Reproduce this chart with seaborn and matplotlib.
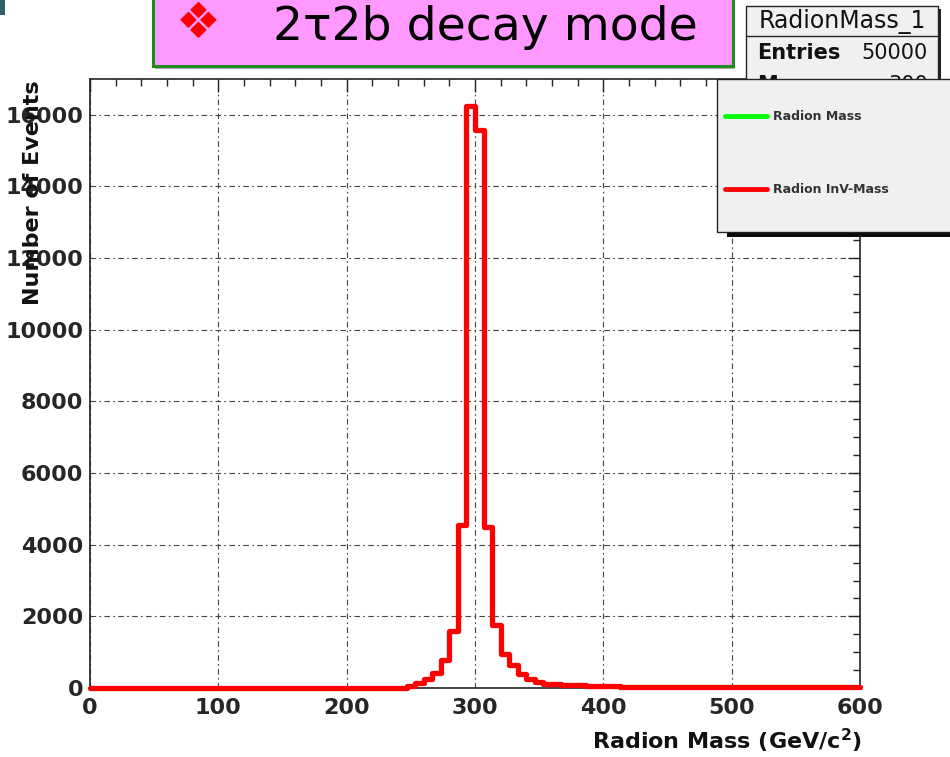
import numpy as np
import pandas as pd
import matplotlib
matplotlib.use("Agg")
import matplotlib.pyplot as plt
from matplotlib.patches import Rectangle
from matplotlib.lines import Line2D
from matplotlib.ticker import MultipleLocator
import seaborn as sns

# ---------------- data ----------------
mass_range = (0, 600)
n_bins = 90
events = [0, 0, 0, 0, 0, 0, 0, 0, 0, 0,
          0, 0, 0, 0, 0, 0, 0, 0, 0, 0,
          0, 0, 0, 0, 0, 0, 0, 0, 0, 0,
          0, 0, 0, 0, 0, 0, 0,
          60, 140, 250, 430, 780, 1580, 4560, 16240,
          15590, 4500, 1760, 950, 630, 390, 250, 165,
          120, 105, 95, 88, 75, 62, 52, 45,
          42, 40, 38, 36, 34, 33, 31, 30, 29, 28,
          27, 26, 25, 24, 23, 22, 21, 21, 20, 19,
          18, 18, 17, 16, 16, 15, 15, 14, 14]
x_ticks = [0, 100, 200, 300, 400, 500, 600]
x_tick_labels = ["0", "100", "200", "300", "400", "500", "600"]
y_ticks = [0, 2000, 4000, 6000, 8000, 10000, 12000, 14000, 16000]
y_tick_labels = ["0", "2000", "4000", "6000", "8000", "10000", "12000", "14000", "16000"]
legend_labels = ["Radion Mass", "Radion InV-Mass"]
legend_colors = ["#00ff00", "#ff0000"]
stats_name = "RadionMass_1"
stats_entries = "50000"
stats_mean = "300"
title_text = "2\u03c42b decay mode"
x_label = r"Radion Mass (GeV/c$^{\mathbf{2}}$)"
y_label = "Number of Events"

edges = np.linspace(mass_range[0], mass_range[1], n_bins + 1)
centers = 0.5 * (edges[:-1] + edges[1:])
df = pd.DataFrame({"mass": centers, "events": events})

# ---------------- figure ----------------
sns.set_style("white")
plt.rcParams["font.family"] = ["DejaVu Sans"]
W, H = 950, 757
fig = plt.figure(figsize=(W / 100, H / 100), dpi=100)


def fx(px):
    return px / W


def fy(py):
    return 1 - py / H


ax = fig.add_axes([fx(90), fy(688), (860 - 90) / W, (688 - 79) / H])

sns.histplot(data=df, x="mass", weights="events", bins=n_bins,
             binrange=mass_range, element="step",
             fill=False, color="#ff0000", linewidth=3.8, ax=ax)
for ln in ax.lines:
    ln.set_clip_on(False)
    ln.set_zorder(5)

ax.set_xlim(0, 600)
ax.set_ylim(0, 17000)
ax.set_xlabel("")
ax.set_ylabel("")
ax.set_xticks(x_ticks)
ax.set_xticklabels(x_tick_labels, fontsize=16, fontweight="bold")
ax.set_yticks(y_ticks)
ax.set_yticklabels(y_tick_labels, fontsize=16, fontweight="bold")
ax.xaxis.set_minor_locator(MultipleLocator(20))
ax.yaxis.set_minor_locator(MultipleLocator(500))
ax.tick_params(which="both", direction="in", top=True, right=True,
               color="#222222", width=1.0)
ax.tick_params(which="major", length=9)
ax.tick_params(which="minor", length=5)
ax.tick_params(axis="x", which="major", pad=7)
ax.tick_params(axis="y", which="major", pad=5)
ax.grid(True, which="major", color="#444444", linewidth=0.8,
        linestyle=(0, (5, 3, 1.5, 3)))
for sp in ax.spines.values():
    sp.set_color("#222222")
    sp.set_linewidth(1.2)

# axis titles
fig.text(fx(33), fy(193), y_label, rotation=90, ha="center", va="center",
         fontsize=16, fontweight="bold", color="#111111")
fig.text(fx(862), fy(741), x_label, ha="right", va="center",
         fontsize=16, fontweight="bold", color="#111111")

# ---------------- title box ----------------
fig.add_artist(Rectangle((fx(155), fy(69)), (735 - 155) / W, 80 / H,
                         transform=fig.transFigure, facecolor="#b0b0b0",
                         edgecolor="none", zorder=9))
fig.add_artist(Rectangle((fx(153), fy(66)), (733 - 153) / W, 80 / H,
                         transform=fig.transFigure, facecolor="#ff99ff",
                         edgecolor="#1f8a1f", linewidth=2.2, zorder=10))
fig.text(fx(198), fy(38), "\u2756", ha="center", va="baseline", fontsize=36,
         color="#ff0000", zorder=11)
fig.text(fx(273), fy(40), title_text, ha="left", va="baseline", fontsize=34,
         color="#000000", zorder=11)

# ---------------- stats box ----------------
fig.add_artist(Rectangle((fx(749), fy(228)), (941 - 749) / W, (228 - 9) / H,
                         transform=fig.transFigure, facecolor="#222222",
                         edgecolor="none", zorder=12))
fig.add_artist(Rectangle((fx(746), fy(225)), (938 - 746) / W, (225 - 6) / H,
                         transform=fig.transFigure, facecolor="#f0f0f0",
                         edgecolor="#222222", linewidth=1.0, zorder=13))
fig.add_artist(Line2D([fx(746), fx(938)], [fy(36), fy(36)],
                      transform=fig.transFigure, color="#222222",
                      linewidth=1.0, zorder=14))
fig.text(fx(842), fy(21), stats_name, ha="center", va="center", fontsize=17,
         color="#111111", zorder=14)
fig.text(fx(757), fy(53), "Entries", ha="left", va="center", fontsize=15,
         fontweight="bold", color="#111111", zorder=14)
fig.text(fx(928), fy(53), stats_entries, ha="right", va="center", fontsize=15,
         color="#111111", zorder=14)
fig.text(fx(757), fy(85), "Mean", ha="left", va="center", fontsize=15,
         fontweight="bold", color="#111111", zorder=14)
fig.text(fx(928), fy(85), stats_mean, ha="right", va="center", fontsize=15,
         color="#111111", zorder=14)

# ---------------- legend ----------------
fig.add_artist(Rectangle((fx(727), fy(237)), (965 - 727) / W, (237 - 84) / H,
                         transform=fig.transFigure, facecolor="#0a0a0a",
                         edgecolor="none", zorder=15))
fig.add_artist(Rectangle((fx(717), fy(232)), (955 - 717) / W, (232 - 79) / H,
                         transform=fig.transFigure, facecolor="#f0f0f0",
                         edgecolor="#222222", linewidth=1.0, zorder=16))
handles = [Line2D([], [], color=c, linewidth=3.5) for c in legend_colors]
leg = fig.legend(handles, legend_labels, loc="upper left",
                 bbox_to_anchor=(fx(717), fy(102)), borderaxespad=0,
                 borderpad=0.64, frameon=False, handlelength=3.36,
                 handletextpad=0.48, labelspacing=4.83,
                 prop={"size": 9, "weight": "bold"})
for t in leg.get_texts():
    t.set_color("#333333")
leg.set_zorder(17)

# slide artifact at top-left
fig.add_artist(Rectangle((0, fy(15)), 5 / W, 15 / H, transform=fig.transFigure,
                         facecolor="#2f5f6a", edgecolor="none", zorder=18))

fig.savefig("out.png", dpi=100)
